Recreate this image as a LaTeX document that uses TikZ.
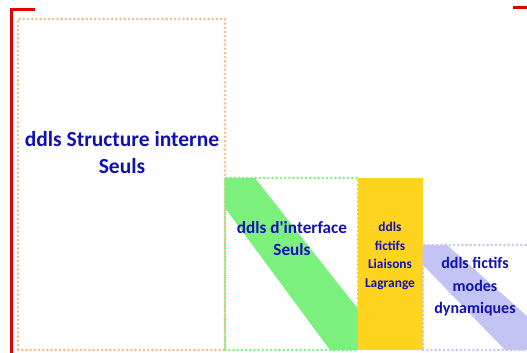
\documentclass[tikz,border=0pt]{standalone}
\usepackage{fontspec}
\setmainfont{Carlito}
\usepackage{xcolor}
\usetikzlibrary{positioning}
\definecolor{ddlblue}{HTML}{1010B8}
\definecolor{peach}{HTML}{F0BC84}
\definecolor{lightgreen}{HTML}{7CF07C}
\definecolor{gold}{HTML}{FFD41E}
\definecolor{lavender}{HTML}{C4C4F4}
\definecolor{bracketred}{HTML}{E00000}

\begin{document}
\begin{tikzpicture}[x=1pt,y=-1pt,every node/.style={font=\bfseries,text=ddlblue,align=center},
   zone/.style={draw,rectangle,inner sep=0pt,outer sep=0pt,anchor=north west,line width=2.8pt,
      line cap=round,dash pattern=on 0pt off 4.2pt},
   lbl/.style={inner sep=1pt}]
\useasboundingbox (0,0) rectangle (527,353);
% bandes de couleur
\fill[lightgreen] (225,178) -- (255,178) -- (358,309) -- (358,350) -- (330,350) -- (225,208) -- cycle;
\fill[lavender] (423,245) -- (447,245) -- (527,316) -- (527,350) -- (505,350) -- (423,265) -- cycle;
% zones de ddls
\node[zone,draw=peach,minimum width=207pt,minimum height=331pt] (interne) at (18,19) {};
\node[zone,draw=lightgreen,minimum width=133pt,minimum height=172pt] (interface) at (225,178) {};
\node[fill=gold,inner sep=0pt,outer sep=0pt,anchor=north west,minimum width=65pt,minimum height=172pt] (lagrange) at (358,178) {};
\node[zone,draw=lavender,minimum width=110pt,minimum height=105pt] (modes) at (423,245) {};
% textes
\node[lbl,font=\bfseries\fontsize{21.5}{27}\selectfont] (tInterne) at (122,153) {ddls Structure interne\\Seuls};
\node[lbl,font=\bfseries\fontsize{17.2}{22}\selectfont] (tInterface) at (292,239) {ddls d\textquotesingle interface\\Seuls};
\node[lbl,font=\bfseries\fontsize{13.4}{18.5}\selectfont] (tLagrange) at (390,256) {ddls\\fictifs\\Liaisons\\Lagrange};
\node[lbl,font=\bfseries\fontsize{16}{22.5}\selectfont] (tModes) at (475,287) {ddls fictifs\\modes\\dynamiques};
% crochets rouges
\coordinate (crochetG) at (35,10);
\coordinate (crochetD) at (513,8);
\draw[bracketred,line width=3pt] (crochetG) -| (11,353);
\draw[bracketred,line width=3pt] (crochetD) -- ++(16,0);
\end{tikzpicture}
\end{document}
